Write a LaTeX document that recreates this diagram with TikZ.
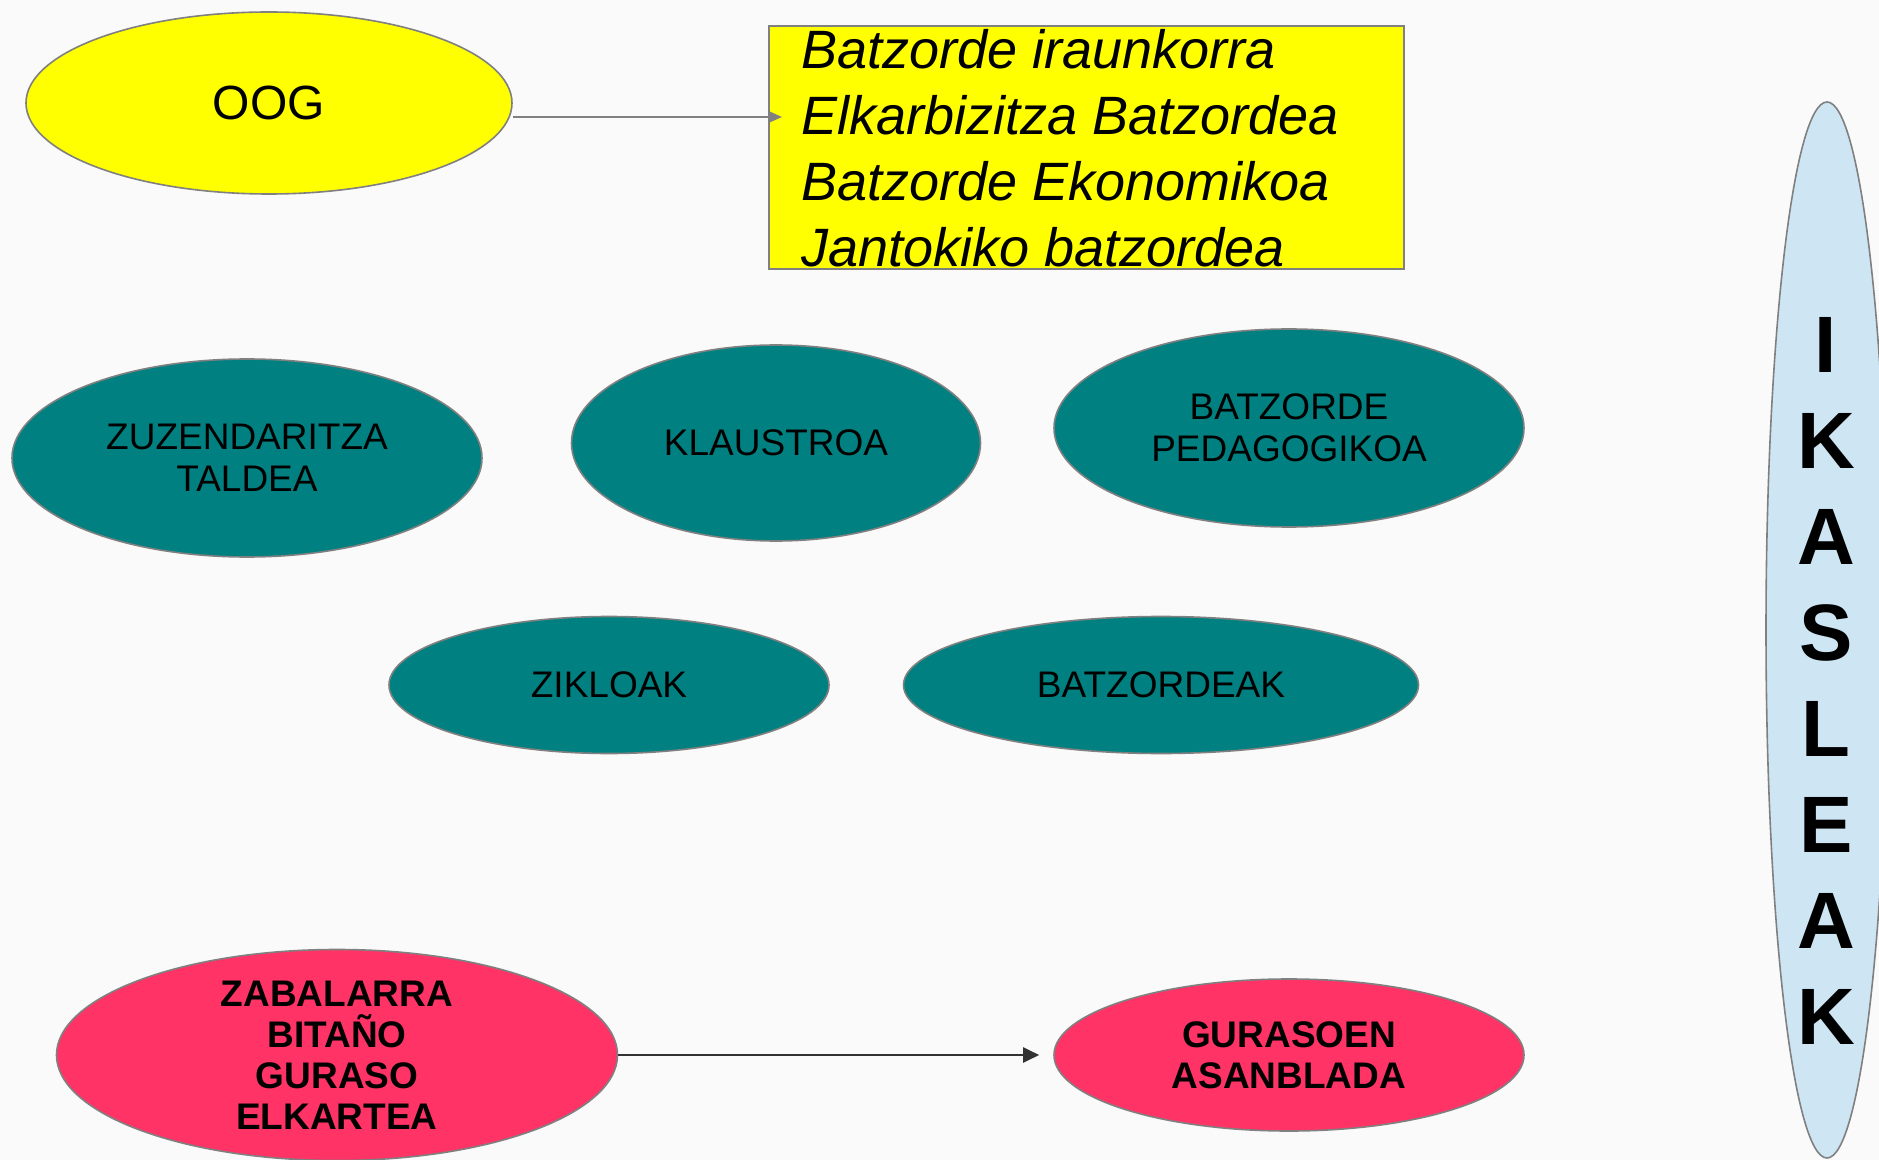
\documentclass[tikz,border=0pt]{standalone}
\usepackage{fontspec}
\setmainfont{Liberation Sans}
\usetikzlibrary{shapes.geometric,arrows.meta}

\definecolor{oogyellow}{RGB}{255,255,0}
\definecolor{taldeteal}{RGB}{0,128,128}
\definecolor{gurasored}{RGB}{255,51,102}
\definecolor{ikasleblue}{RGB}{206,229,244}
\definecolor{edgegray}{RGB}{128,128,128}
\definecolor{bggray}{RGB}{250,250,250}

\begin{document}
\begin{tikzpicture}[x=0.5pt,y=-0.5pt]
\tikzstyle{oval}=[ellipse,draw=edgegray,line width=0.8pt,inner sep=0pt]
\tikzstyle{tealoval}=[oval,fill=taldeteal,align=center,font=\fontsize{18.5}{21}\selectfont]
\tikzstyle{redoval}=[oval,fill=gurasored,align=center,font=\bfseries\fontsize{18.5}{20.5}\selectfont]
\tikzstyle{grayarrow}=[draw=edgegray,line width=1pt,-{Triangle[length=7pt,width=6pt]}]
\tikzstyle{blackarrow}=[draw=black!80,line width=1pt,-{Triangle[length=8pt,width=7.5pt]}]

\fill[bggray] (0,0) rectangle (1879,1160);
\useasboundingbox (0,0) rectangle (1879,1160);

% OOG and its committees
\node[oval,fill=oogyellow,minimum width=243pt,minimum height=91pt,font=\fontsize{24}{28}\selectfont] (oog) at (269,103) {OOG};
\node[draw=edgegray,line width=0.8pt,fill=oogyellow,anchor=north west,minimum width=317.5pt,minimum height=121.5pt] (komite) at (768,25) {};
\node[anchor=west,align=left,inner sep=0pt,font=\itshape\fontsize{27}{33}\selectfont] (komitetxt) at (801,148)
  {Batzorde iraunkorra\\Elkarbizitza Batzordea\\Batzorde Ekonomikoa\\Jantokiko batzordea};
\coordinate (komitetip) at (782,117);

% teachers
\node[tealoval,minimum width=235pt,minimum height=99pt] (zuzendaritza) at (247,458) {ZUZENDARITZA\\TALDEA};
\node[tealoval,minimum width=204.5pt,minimum height=98pt] (klaustroa) at (776,443) {KLAUSTROA};
\node[tealoval,minimum width=235pt,minimum height=99pt] (pedagogikoa) at (1289,428) {BATZORDE\\PEDAGOGIKOA};
\node[tealoval,minimum width=220pt,minimum height=68.5pt] (zikloak) at (609,685) {ZIKLOAK};
\node[tealoval,minimum width=257.5pt,minimum height=68.5pt] (batzordeak) at (1161,685) {BATZORDEAK};

% parents
\node[redoval,minimum width=280.5pt,minimum height=105.5pt] (elkartea) at (337,1055) {};
\node[align=center,inner sep=0pt,font=\bfseries\fontsize{18.5}{20.5}\selectfont] (elkarteatxt) at (elkartea) {ZABALARRA\\BITAÑO\\GURASO\\ELKARTEA};
\node[redoval,minimum width=235pt,minimum height=76pt] (asanblada) at (1289,1055) {GURASOEN\\ASANBLADA};

% pupils
\node[oval,fill=ikasleblue,minimum width=61pt,minimum height=528pt] (ikasleak) at (1827,630) {};
\node[align=center,inner sep=0pt,font=\bfseries\fontsize{40}{48}\selectfont] (ikasleaktxt) at (1826,681) {I\\K\\A\\S\\L\\E\\A\\K};

\draw[grayarrow] (oog.east |- komitetip) -- (komitetip);
\draw[blackarrow,shorten >=7pt] (elkartea.east) -- (elkartea.east -| asanblada.west);
\end{tikzpicture}
\end{document}
